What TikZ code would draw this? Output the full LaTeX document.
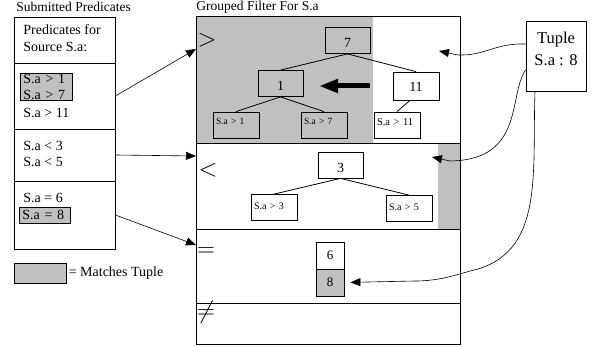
\documentclass[tikz,border=0pt]{standalone}
\usepackage{fontspec}
\setmainfont{Liberation Serif}
\usetikzlibrary{arrows.meta}
\definecolor{matchgray}{RGB}{192,192,192}
\tikzset{
  cell/.style = {draw, minimum width = 101pt, inner sep = 0pt},
  row/.style  = {draw, minimum width = 264pt, inner sep = 0pt},
  num/.style  = {draw, minimum width = 45pt, minimum height = 26pt, inner sep = 0pt,
                 text height = 15pt, text depth = 0pt, font = \fontsize{14}{14}\selectfont},
  leaf/.style = {draw, minimum height = 26pt, text width = 40pt, inner xsep = 3pt,
                 align = left, text depth = 7pt, font = \fontsize{9.5}{9.5}\selectfont},
  pred/.style = {anchor = west, inner sep = 0pt, align = left,
                 font = \fontsize{14}{16.5}\selectfont},
  hit/.style  = {draw, fill = matchgray, anchor = west, inner xsep = 3pt, inner ysep = 1pt,
                 align = left, font = \fontsize{14}{16}\selectfont},
  op/.style   = {inner sep = 0pt, font = \fontsize{24}{24}\selectfont},
  arr/.style  = {-{Triangle[length = 10pt, width = 8pt]}, line width = 0.6pt}
}
\begin{document}
\begin{tikzpicture}[x = 1pt, y = -1pt, line width = 0.8pt]
          \useasboundingbox (0,0) rectangle (592,347);

          \node[anchor = west, inner sep = 0pt, font = \fontsize{13.5}{13.5}\selectfont] at ( 16, 7) (ttlleft)  {Submitted Predicates};
          \node[anchor = west, inner sep = 0pt, font = \fontsize{13.5}{13.5}\selectfont] at (196, 7) (ttlright) {Grouped Filter For S.a};

          \node[cell, minimum height = 46pt] at (64.5,  40) (head) {};
          \node[cell, minimum height = 66pt] at (64.5,  96) (cgt)  {};
          \node[cell, minimum height = 52pt] at (64.5, 155) (clt)  {};
          \node[cell, minimum height = 68pt] at (64.5, 215) (ceq)  {};

          \node[pred] at (23,  38) (srcp) {Predicates for\\Source S.a:};
          \node[hit, minimum width = 52pt, text width = 46pt] at (20, 87) (hgt) {S.a > 1\\S.a > 7};
          \node[pred] at (23, 113) (p11) {S.a > 11};
          \node[pred] at (23, 154) (plt) {S.a < 3\\S.a < 5};
          \node[pred] at (23, 198) (p6)  {S.a = 6};
          \node[hit, minimum width = 51pt, minimum height = 16pt, text width = 45pt] at (19, 215) (heq) {S.a = 8};

          \node[draw, fill = matchgray, minimum width = 52pt, minimum height = 20pt] at (40, 273) (key) {};
          \node[pred, anchor = west] at ([xshift = 2pt]key.east) (keytxt) {= Matches Tuple};

          \fill[matchgray] (196,16) rectangle (373,143);
          \fill[matchgray] (438,143) rectangle (460,229);
          \node[row, minimum height = 127pt] at (328,  79.5) (rgt) {};
          \node[row, minimum height =  86pt] at (328, 186)   (rlt) {};
          \node[row, minimum height =  74pt] at (328, 266)   (req) {};
          \node[row, minimum height =  41pt] at (328, 323.5) (rne) {};

          \node[op] at (207,  40) (sgt) {$>$};
          \node[op] at (208, 170) (slt) {$<$};
          \node[op] at (206, 252) (seq) {$=$};
          \node[op] at (206, 312) (sne) {$\neq$};

          \node[num] at (347.5, 40.5) (n7)  {7};
          \node[num] at (280.5, 83.5) (n1)  {1};
          \node[num, minimum width = 46pt, minimum height = 28pt, text height = 11pt] at (416, 86) (n11) {11};
          \node[leaf] at (236, 125) (l1)  {S.a > 1};
          \node[leaf] at (324, 125) (l7)  {S.a > 7};
          \node[leaf, font = \fontsize{10.5}{10.5}\selectfont, text depth = 5pt] at (397, 125) (l11) {S.a > 11};

          \node[num] at (340.5, 165) (n3) {3};
          \node[leaf, font = \fontsize{10}{10}\selectfont, text depth = 3pt] at (274, 207.5) (l3) {S.a > 3};
          \node[leaf, font = \fontsize{10}{10}\selectfont, text depth = 3pt] at (409, 208.5) (l5) {S.a > 5};

          \node[draw, minimum width = 28pt, minimum height = 27pt, font = \fontsize{13}{13}\selectfont] at (330, 255.5) (six) {6};
          \node[draw, fill = matchgray, minimum width = 28pt, minimum height = 27pt, font = \fontsize{13}{13}\selectfont] at (330, 282.5) (eight) {8};

          \node[draw, minimum width = 60pt, minimum height = 70pt, align = center, text depth = 14pt,
                font = \fontsize{16.5}{22}\selectfont] at (556, 56) (tuple) {Tuple\\S.a : 8};

          \draw (n7.south) -- (n1.north);
          \draw (n7.south) -- (n11.north);
          \draw (n1.south) -- (l1.north);
          \draw (n1.south) -- (l7.north);
          \draw ([xshift = -6pt]n11.south) -- (l11.north);
          \draw (n3.south) -- (l3.north);
          \draw (n3.south) -- (l5.north);

          \coordinate (ingt) at (196,  49);
          \coordinate (inlt) at (196, 156);
          \coordinate (ineq) at (196, 245);
          \draw[arr] (cgt.east) -- (ingt);
          \draw[arr] (clt.east) -- (inlt);
          \draw[arr] (ceq.east) -- (ineq);

          \coordinate (hitgt) at (439,  51);
          \coordinate (hitlt) at (432, 157);
          \draw[arr] ([yshift = 12pt]tuple.west) .. controls (495,43) and (485,56) .. (458,55) -- (hitgt);
          \draw[arr] ([yshift = -14pt]tuple.west) .. controls (508,95) and (525,160) .. (450,161) -- (hitlt);
          \draw[arr, shorten > = 6pt] ([xshift = -21pt]tuple.south) .. controls (532,175) and (545,255) .. (470,271)
                                      .. controls (450,277) and (435,281) .. (415,281) -- (eight.east);

          \coordinate (bigfrom) at (370, 86);
          \coordinate (bigto)   at (319, 86);
          \draw[line width = 5pt, -{Triangle[length = 19pt, width = 13pt]}] (bigfrom) -- (bigto);
        \end{tikzpicture}
\end{document}
